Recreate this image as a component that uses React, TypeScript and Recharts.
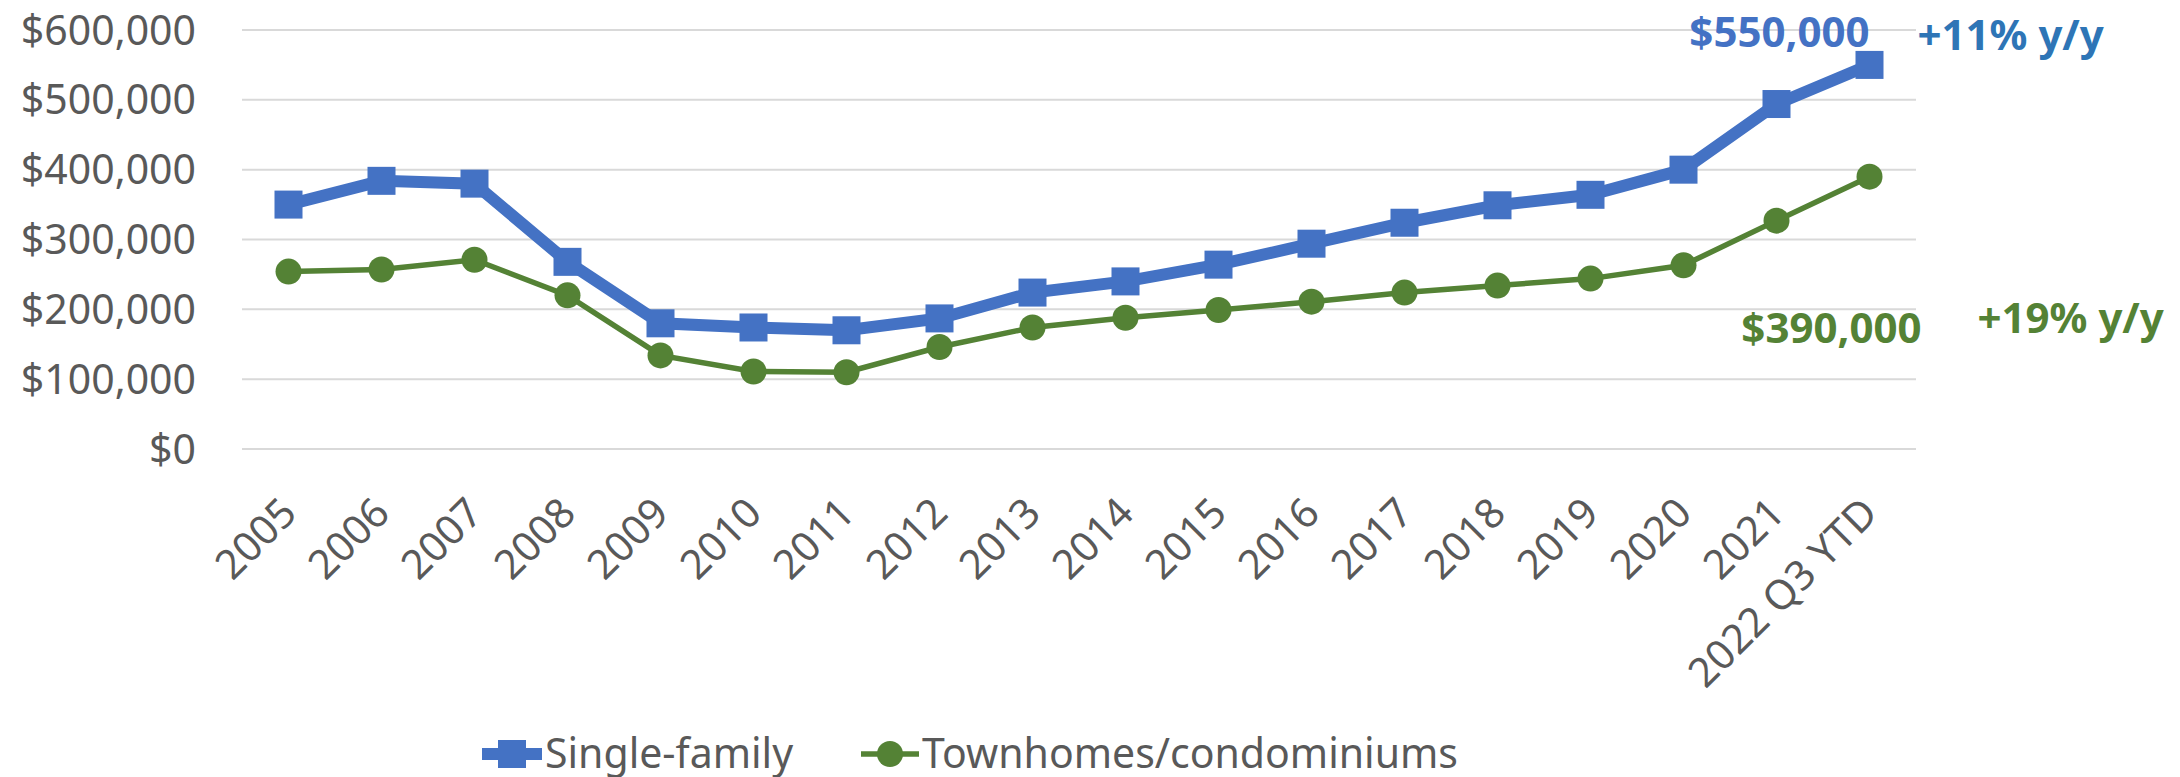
import { LineChart, Line, XAxis, YAxis, CartesianGrid, Legend } from "recharts"

const years = [
  "2005", "2006", "2007", "2008", "2009", "2010", "2011", "2012", "2013",
  "2014", "2015", "2016", "2017", "2018", "2019", "2020", "2021", "2022 Q3 YTD",
]
const singleFamily = [
  350000, 384000, 380000, 268000, 180000, 174000, 170000, 187000, 224000,
  240000, 264000, 294000, 324000, 349000, 364000, 400000, 494000, 550000,
]
const townhomes = [
  254000, 257000, 271000, 220000, 134000, 111000, 110000, 146000, 174000,
  188000, 199000, 211000, 224000, 234000, 244000, 263000, 327000, 390000,
]
const yTicks = [0, 100000, 200000, 300000, 400000, 500000, 600000]
const sfNote = "$550,000"
const sfChange = "+11% y/y"
const thNote = "$390,000"
const thChange = "+19% y/y"

const data = years.map((year, i) => ({
  year,
  sf: singleFamily[i],
  th: townhomes[i],
}))

const FONT = "'Noto Sans', sans-serif"
const GRAY = "#595959"
const BLUE = "#4472C4"
const GREEN = "#548235"
const lastIdx = years.length - 1

const money = (v: number) => "$" + v.toLocaleString("en-US")

const XTick = (props: any) => {
  const { x, y, payload } = props
  return (
    <text
      x={x}
      y={y}
      dy="0.36em"
      textAnchor="end"
      transform={`rotate(-45, ${x}, ${y})`}
      fill={GRAY}
      fontSize={41}
      fontFamily={FONT}
    >
      {payload.value}
    </text>
  )
}

const SquareDot = (props: any) => {
  const { cx, cy, index } = props
  return <rect key={"sq" + index} x={cx - 14} y={cy - 14} width={28} height={28} fill={BLUE} />
}

const SfLabel = (props: any) => {
  const { x, y, index } = props
  if (index !== lastIdx) return null
  return (
    <g key="sf-note" fontFamily={FONT} fontWeight="bold" fontSize={42}>
      <text x={x} y={y - 18} textAnchor="end" fill={BLUE}>{sfNote}</text>
      <text x={x + 48} y={y - 15} fill="#2E75B6">{sfChange}</text>
    </g>
  )
}

const ThLabel = (props: any) => {
  const { x, y, index } = props
  if (index !== lastIdx) return null
  return (
    <g key="th-note" fontFamily={FONT} fontWeight="bold" fontSize={42} fill={GREEN}>
      <text x={x + 52} y={y + 166} textAnchor="end">{thNote}</text>
      <text x={x + 108} y={y + 156}>{thChange}</text>
    </g>
  )
}

const LegendBox = () => (
  <div style={{ display: "flex", fontFamily: FONT, fontSize: 41, color: GRAY, lineHeight: "42px" }}>
    <div style={{ display: "flex", alignItems: "flex-start" }}>
      <svg width={60} height={46} style={{ marginRight: 3 }}>
        <line x1={0} y1={23} x2={60} y2={23} stroke={BLUE} strokeWidth={12} />
        <rect x={16} y={9} width={28} height={28} fill={BLUE} />
      </svg>
      <span>Single-family</span>
    </div>
    <div style={{ display: "flex", alignItems: "flex-start", marginLeft: 68 }}>
      <svg width={58} height={46} style={{ marginRight: 3 }}>
        <line x1={0} y1={23} x2={58} y2={23} stroke={GREEN} strokeWidth={5.5} />
        <circle cx={29} cy={23} r={13} fill={GREEN} />
      </svg>
      <span>Townhomes/condominiums</span>
    </div>
  </div>
)

export default function App() {
  return (
    <div style={{ position: "absolute", left: 0, top: 0, width: 2180, height: 777, background: "#fff" }}>
      <LineChart
        width={2180}
        height={777}
        data={data}
        margin={{ top: 30, right: 264, bottom: 128, left: 0 }}
      >
        <CartesianGrid vertical={false} stroke="#D9D9D9" strokeWidth={2} />
        <XAxis
          dataKey="year"
          interval={0}
          axisLine={false}
          tickLine={false}
          tickSize={0}
          tickMargin={56}
          height={200}
          padding={{ left: 46.5, right: 46.5 }}
          tick={<XTick />}
        />
        <YAxis
          domain={[0, 600000]}
          ticks={yTicks}
          width={242}
          axisLine={false}
          tickLine={false}
          tickSize={0}
          tickMargin={46}
          tickFormatter={money}
          tick={{ fill: GRAY, fontSize: 41, fontFamily: FONT }}
        />
        <Legend
          layout="horizontal"
          verticalAlign="middle"
          align="center"
          content={<LegendBox />}
          wrapperStyle={{ top: 731, left: 482, width: 1200, height: 46 }}
        />
        <Line
          dataKey="sf"
          name="Single-family"
          stroke={BLUE}
          strokeWidth={12}
          dot={SquareDot}
          activeDot={false}
          label={SfLabel}
          isAnimationActive={false}
        />
        <Line
          dataKey="th"
          name="Townhomes/condominiums"
          stroke={GREEN}
          strokeWidth={5.5}
          dot={{ r: 13, fill: GREEN, stroke: "none" }}
          activeDot={false}
          label={ThLabel}
          isAnimationActive={false}
        />
      </LineChart>
    </div>
  )
}
